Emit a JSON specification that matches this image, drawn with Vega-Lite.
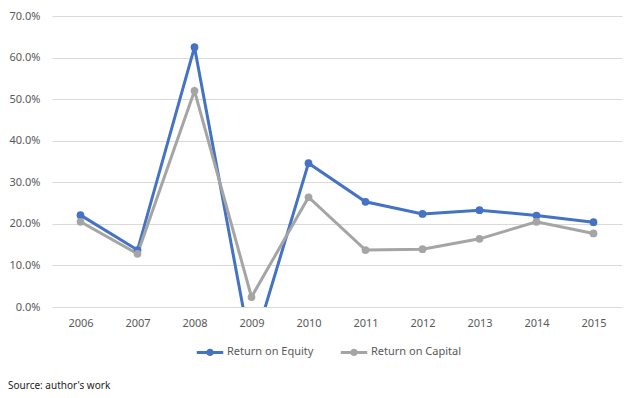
{
  "$schema": "https://vega.github.io/schema/vega-lite/v6.json",
  "width": 570,
  "height": 291,
  "autosize": "none",
  "padding": {"left": 52, "top": 16, "right": 18, "bottom": 91},
  "background": "white",
  "config": {
    "view": {"stroke": null},
    "font": "Noto Sans",
    "axis": {"labelFont": "Noto Sans", "labelColor": "#595959", "labelFontSize": 11}
  },
  "title": {
    "text": "Source: author's work",
    "orient": "bottom",
    "anchor": "start",
    "frame": "group",
    "dx": -44,
    "offset": 20,
    "fontSize": 10,
    "fontWeight": "normal",
    "color": "#222222",
    "font": "Noto Sans"
  },
  "data": {
    "values": [
      {"year": "2006", "series": "Return on Equity", "value": 0.221},
      {"year": "2007", "series": "Return on Equity", "value": 0.137},
      {"year": "2008", "series": "Return on Equity", "value": 0.625},
      {"year": "2009", "series": "Return on Equity", "value": -0.11},
      {"year": "2010", "series": "Return on Equity", "value": 0.346},
      {"year": "2011", "series": "Return on Equity", "value": 0.253},
      {"year": "2012", "series": "Return on Equity", "value": 0.224},
      {"year": "2013", "series": "Return on Equity", "value": 0.233},
      {"year": "2014", "series": "Return on Equity", "value": 0.22},
      {"year": "2015", "series": "Return on Equity", "value": 0.204},
      {"year": "2006", "series": "Return on Capital", "value": 0.205},
      {"year": "2007", "series": "Return on Capital", "value": 0.128},
      {"year": "2008", "series": "Return on Capital", "value": 0.52},
      {"year": "2009", "series": "Return on Capital", "value": 0.024},
      {"year": "2010", "series": "Return on Capital", "value": 0.264},
      {"year": "2011", "series": "Return on Capital", "value": 0.137},
      {"year": "2012", "series": "Return on Capital", "value": 0.139},
      {"year": "2013", "series": "Return on Capital", "value": 0.164},
      {"year": "2014", "series": "Return on Capital", "value": 0.205},
      {"year": "2015", "series": "Return on Capital", "value": 0.177}
    ]
  },
  "encoding": {
    "x": {
      "field": "year",
      "type": "ordinal",
      "scale": {"type": "point", "padding": 0.5},
      "axis": {"title": null, "labelAngle": 0, "domain": false, "ticks": false, "labelPadding": 10, "grid": false}
    },
    "y": {
      "field": "value",
      "type": "quantitative",
      "scale": {"domain": [0, 0.7], "nice": false, "zero": false},
      "axis": {"title": null, "format": ".1%", "values": [0, 0.1, 0.2, 0.3, 0.4, 0.5, 0.6, 0.7], "labelOverlap": false, "domain": false, "ticks": false, "labelPadding": 12, "gridColor": "#D9D9D9", "gridWidth": 1}
    },
    "color": {
      "field": "series",
      "type": "nominal",
      "sort": ["Return on Equity", "Return on Capital"],
      "scale": {"domain": ["Return on Equity", "Return on Capital"], "range": ["#4472C4", "#A5A5A5"]},
      "legend": {
        "orient": "none",
        "legendX": 143,
        "legendY": 321,
        "direction": "horizontal",
        "title": null,
        "labelFont": "Noto Sans",
        "labelFontSize": 11,
        "labelColor": "#595959",
        "symbolType": "M-1,0L1,0M0.17,0A0.17,0.17 0 1,1 -0.17,0A0.17,0.17 0 1,1 0.17,0Z",
        "symbolStrokeWidth": 3,
        "symbolSize": 700,
        "columnPadding": 20,
        "labelOffset": 2,
        "encode": {
          "symbols": {"update": {"fill": {"scale": "color", "field": "value"}, "fillOpacity": {"value": 1}, "opacity": {"value": 1}}}
        }
      }
    }
  },
  "layer": [
    {"mark": {"type": "line", "strokeWidth": 3, "clip": true}},
    {"mark": {"type": "circle", "size": 60, "opacity": 1, "clip": true}}
  ]
}
